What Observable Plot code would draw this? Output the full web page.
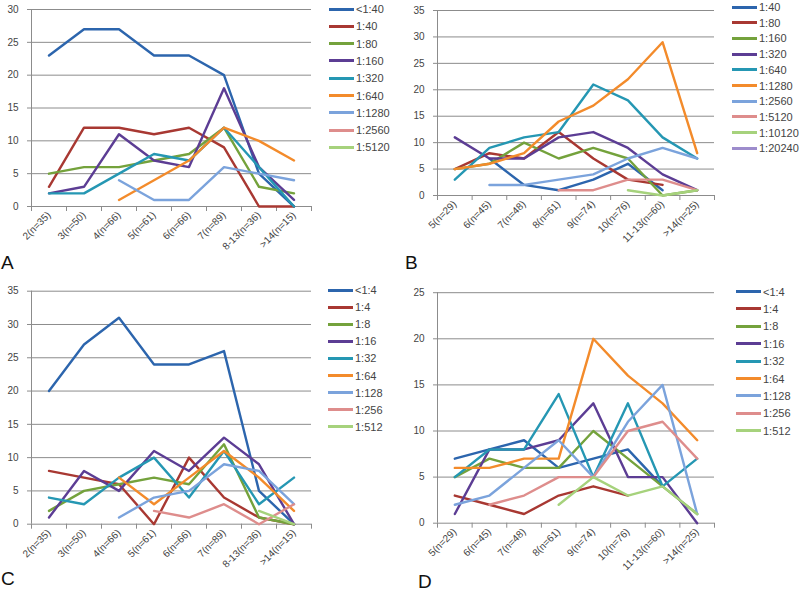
<!DOCTYPE html>
<html><head><meta charset="utf-8">
<script src="https://cdn.jsdelivr.net/npm/d3@7"></script>
<script src="https://cdn.jsdelivr.net/npm/@observablehq/plot@0.6"></script>
<style>
body{margin:0;background:#fff;font-family:"Liberation Sans",Arial,sans-serif;}
#root{position:relative;width:800px;height:591px;overflow:hidden;background:#fff;}
.panel{position:absolute;}
.lg{position:absolute;font-size:11px;color:#444;line-height:12px;height:12px;white-space:nowrap;display:flex;align-items:center;}
.lg .sw{display:inline-block;width:25px;height:3px;margin-right:2px;}
.letter{position:absolute;font-size:19px;line-height:19px;color:#111;}
</style></head><body><div id="root"></div>
<script>
// categories
const catsAC = ["2(n=35)","3(n=50)","4(n=66)","5(n=61)","6(n=66)","7(n=89)","8-13(n=36)",">14(n=15)"];
const catsBD = ["5(n=29)","6(n=45)","7(n=48)","8(n=61)","9(n=74)","10(n=76)","11-13(n=60)",">14(n=25)"];
const colors = ["#2c65ad","#a83832","#74a23c","#5c3d94","#2597b3","#f38b2b","#7ba3dc","#de8d8c","#a6d27c","#9d8ccc"];

// Panel A
const seriesA = ["<1:40","1:40","1:80","1:160","1:320","1:640","1:1280","1:2560","1:5120"];
const valuesA = [
  [23,27,27,23,23,20,5,0],
  [3,12,12,11,12,9,0,0],
  [5,6,6,7,8,12,3,2],
  [2,3,11,7,6,18,6,1],
  [2,2,5,8,7,12,6,0],
  [null,null,1,4,7,12,10,7],
  [null,null,4,1,1,6,5,4],
  [null,null,null,null,null,null,null,null],
  [null,null,null,null,null,null,null,null]
];
// Panel B
const seriesB = ["1:40","1:80","1:160","1:320","1:640","1:1280","1:2560","1:5120","1:10120","1:20240"];
const valuesB = [
  [null,7,2,1,3,6,1,null],
  [5,8,7,12,7,3,2,null],
  [5,6,10,7,9,7,0,1],
  [11,7,7,11,12,9,4,1],
  [3,9,11,12,21,18,11,7],
  [5,6,8,14,17,22,29,8],
  [null,2,2,3,4,7,9,7],
  [null,null,null,1,1,3,3,1],
  [null,null,null,null,null,1,0,1],
  [null,null,null,null,null,null,null,null]
];
// Panel C
const seriesC = ["<1:4","1:4","1:8","1:16","1:32","1:64","1:128","1:256","1:512"];
const valuesC = [
  [20,27,31,24,24,26,5,0],
  [8,7,6,0,10,4,1,0],
  [2,5,6,7,6,12,1,0],
  [1,8,5,11,8,13,9,0],
  [4,3,7,10,4,11,3,7],
  [null,null,7,3,7,11,7,2],
  [null,null,1,4,5,9,8,3],
  [null,null,null,2,1,3,0,3],
  [null,null,null,null,null,null,2,0]
];
// Panel D
const seriesD = ["<1:4","1:4","1:8","1:16","1:32","1:64","1:128","1:256","1:512"];
const valuesD = [
  [7,8,9,6,7,8,4,null],
  [3,2,1,3,4,3,null,null],
  [5,7,6,6,10,7,4,1],
  [1,8,8,9,13,5,5,0],
  [5,8,8,14,5,13,4,7],
  [6,6,7,7,20,16,13,9],
  [2,3,6,9,5,11,15,1],
  [null,2,3,5,5,10,11,7],
  [null,null,null,2,5,3,4,1]
];
const yMaxA = 30, yMaxB = 35, yMaxC = 35, yMaxD = 25;

const root = document.getElementById("root");

function panel(o){
  const n = o.cats.length;
  const data = [];
  o.series.forEach((s, si) => o.values[si].forEach((v, i) => { if (v != null) data.push({s, i, v}); }));
  const yt = d3.range(0, o.ymax + 1, 5);
  const svg = Plot.plot({
    width: o.w, height: o.h,
    marginLeft: o.ml, marginRight: o.mr, marginTop: o.mt, marginBottom: o.mb,
    style: {background: "transparent", fontFamily: "'Liberation Sans', Arial, sans-serif", fontSize: "10px", color: "#444"},
    x: {type: "linear", domain: [-0.5, n - 0.5], label: null},
    y: {domain: [0, o.ymax], label: null},
    color: {domain: o.series, range: colors.slice(0, o.series.length)},
    marks: [
      Plot.gridY(yt, {stroke: "#8c8c8c", strokeOpacity: 1}),
      Plot.axisY(yt, {tickSize: 4, tickPadding: 9, stroke: "#8c8c8c", fill: "#444"}),
      Plot.ruleX([-0.5], {stroke: "#8c8c8c"}),
      Plot.axisX(d3.range(-0.5, n, 1), {tickSize: 5, tickFormat: () => "", stroke: "#8c8c8c"}),
      Plot.axisX(d3.range(n), {tickSize: 0, tickPadding: 7, tickRotate: -45, tickFormat: i => o.cats[i], fill: "#444"}),
      Plot.line(data, {x: "i", y: "v", z: "s", stroke: "s", strokeWidth: 2.4, strokeLinejoin: "round"})
    ]
  });
  svg.classList.add("panel");
  svg.style.left = o.left + "px";
  svg.style.top = o.top + "px";
  svg.style.position = "absolute";
  root.appendChild(svg);
  // legend
  o.series.forEach((s, k) => {
    const row = document.createElement("div");
    row.className = "lg";
    row.style.left = o.lx + "px";
    row.style.top = (o.ly + k * o.ls - 6) + "px";
    const sw = document.createElement("span");
    sw.className = "sw";
    sw.style.background = colors[k];
    row.appendChild(sw);
    row.appendChild(document.createTextNode(s));
    root.appendChild(row);
  });
  const L = document.createElement("div");
  L.className = "letter";
  L.textContent = o.letter;
  L.style.left = o.Lx + "px";
  L.style.top = o.Ly + "px";
  root.appendChild(L);
}

panel({cats: catsAC, series: seriesA, values: valuesA, ymax: yMaxA,
  left: 0, top: 0, w: 320, h: 285, ml: 31, mr: 9, mt: 9, mb: 79,
  lx: 329, ly: 9, ls: 17.3, letter: "A", Lx: 1, Ly: 253});
panel({cats: catsBD, series: seriesB, values: valuesB, ymax: yMaxB,
  left: 400, top: 0, w: 320, h: 285, ml: 37, mr: 6, mt: 10, mb: 90,
  lx: 732, ly: 7, ls: 15.7, letter: "B", Lx: 405, Ly: 253});
panel({cats: catsAC, series: seriesC, values: valuesC, ymax: yMaxC,
  left: 0, top: 285, w: 320, h: 306, ml: 31, mr: 9, mt: 5.7, mb: 67.3,
  lx: 328, ly: 290, ls: 17.1, letter: "C", Lx: 1, Ly: 569});
panel({cats: catsBD, series: seriesD, values: valuesD, ymax: yMaxD,
  left: 400, top: 285, w: 320, h: 306, ml: 37, mr: 6, mt: 7.2, mb: 68.3,
  lx: 736, ly: 291.5, ls: 17.4, letter: "D", Lx: 418, Ly: 572});
</script></body></html>
